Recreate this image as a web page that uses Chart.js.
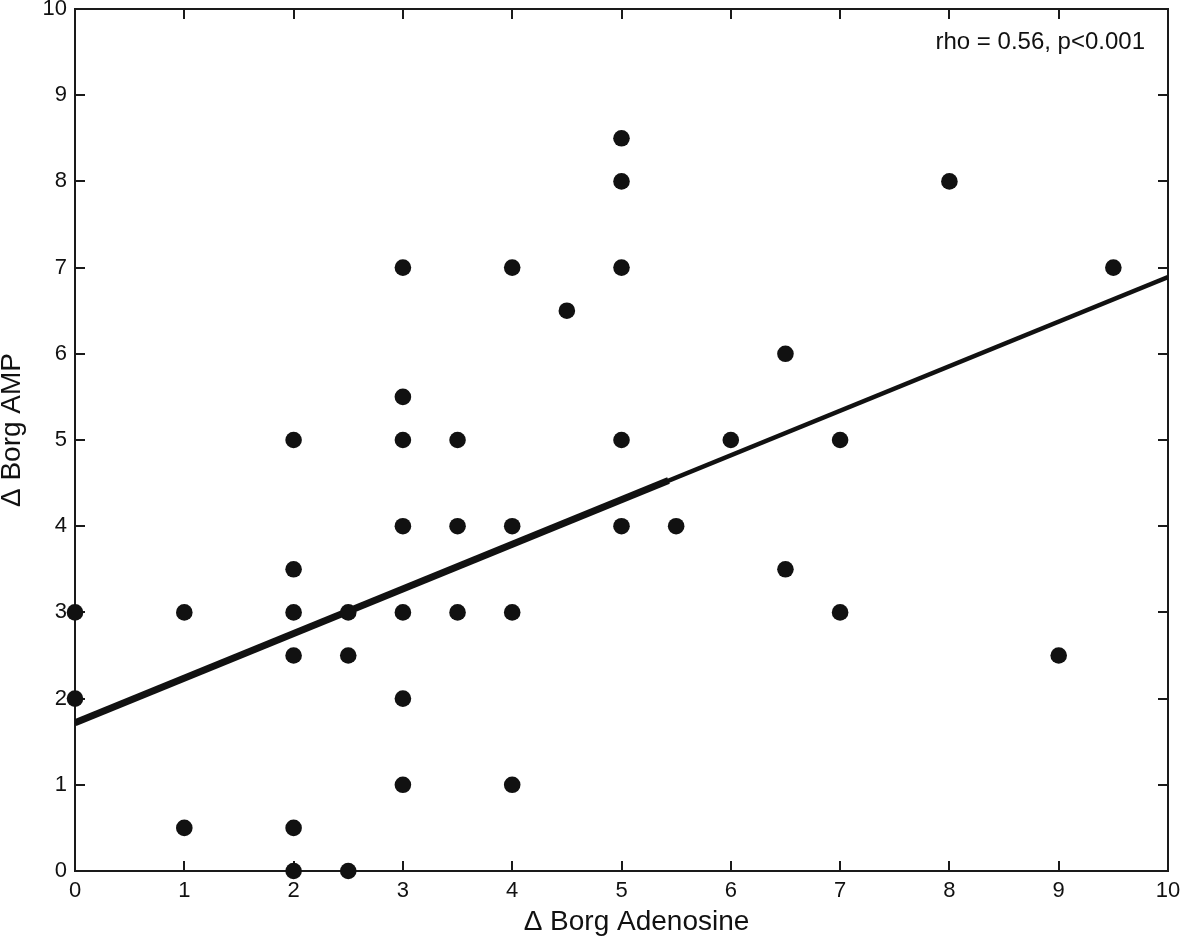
<!DOCTYPE html>
<html><head><meta charset="utf-8">
<script src="https://cdn.jsdelivr.net/npm/chart.js@4/dist/chart.umd.min.js"></script>
<style>html,body{margin:0;padding:0;background:#fff}#wrap{position:relative;width:1181px;height:940px}</style>
</head><body><div id="wrap"><canvas id="c" width="1181" height="940"></canvas></div>
<script>
// Data
const adenosine = [0,0, 1,1, 2,2,2,2,2,2, 2.5,2.5,2.5, 3,3,3,3,3,3,3, 3.5,3.5,3.5, 4,4,4,4, 4.5, 5,5,5,5,5, 5.5, 6, 6.5,6.5, 7,7, 8, 9, 9.5];
const amp       = [3,2, 3,0.5, 5,3.5,3,2.5,0.5,0, 3,2.5,0, 7,5.5,5,4,3,2,1, 5,4,3, 7,4,3,1, 6.5, 8.5,8,7,5,4, 4, 5, 6,3.5, 5,3, 8, 2.5, 7];
const fitX = [0, 10];
const fitY = [1.72, 6.89];
const fitThickX = [0, 5.43];
const fitThickY = [1.72, 4.53];
const xTickValues = [0,1,2,3,4,5,6,7,8,9,10];
const yTickValues = [0,1,2,3,4,5,6,7,8,9,10];
const xTitle = 'Δ Borg Adenosine';
const yTitle = 'Δ Borg AMP';
const statText = 'rho = 0.56, p<0.001';

const FONT = "'Liberation Sans', Arial, Helvetica, sans-serif";
const INK = '#111111';

const pts = adenosine.map((x, i) => ({x, y: amp[i]}));
const fitLine = fitX.map((x, i) => ({x, y: fitY[i]}));
const fitThick = fitThickX.map((x, i) => ({x, y: fitThickY[i]}));

const framePlugin = {
  id: 'frame',
  beforeDatasetsDraw(chart) {
    const {ctx, chartArea: a, scales: {x, y}} = chart;
    ctx.save();
    ctx.strokeStyle = '#1a1a1a';
    ctx.lineWidth = 2;
    ctx.strokeRect(a.left, a.top, a.right - a.left, a.bottom - a.top);
    const tl = 10;
    ctx.beginPath();
    xTickValues.forEach(v => {
      const px = Math.round(x.getPixelForValue(v));
      ctx.moveTo(px, a.bottom); ctx.lineTo(px, a.bottom - tl);
      ctx.moveTo(px, a.top); ctx.lineTo(px, a.top + tl);
    });
    yTickValues.forEach(v => {
      const py = Math.round(y.getPixelForValue(v));
      ctx.moveTo(a.left, py); ctx.lineTo(a.left + tl, py);
      ctx.moveTo(a.right, py); ctx.lineTo(a.right - tl, py);
    });
    ctx.stroke();
    ctx.restore();
  },
  afterDraw(chart) {
    const {ctx, chartArea: a} = chart;
    ctx.save();
    ctx.fillStyle = INK;
    ctx.font = '24px ' + FONT;
    ctx.textAlign = 'right';
    ctx.textBaseline = 'middle';
    ctx.fillText(statText, a.right - 23, 42);
    // axis titles (positioned as in the reference)
    ctx.font = '28px ' + FONT;
    ctx.textAlign = 'center';
    ctx.fillText(xTitle, (a.left + a.right) / 2 + 15, 922);
    ctx.translate(12, (a.top + a.bottom) / 2 - 10);
    ctx.rotate(-Math.PI / 2);
    ctx.fillText(yTitle, 0, 0);
    ctx.restore();
  }
};

new Chart(document.getElementById('c'), {
  type: 'scatter',
  data: {
    datasets: [
      {
        type: 'scatter',
        data: pts,
        backgroundColor: INK,
        borderColor: INK,
        pointRadius: 8.3,
        pointHoverRadius: 8.3,
        borderWidth: 0,
        clip: false,
        order: 1
      },
      {
        type: 'line',
        data: fitThick,
        borderColor: INK,
        borderWidth: 7,
        pointRadius: 0,
        fill: false,
        order: 2
      },
      {
        type: 'line',
        data: fitLine,
        borderColor: INK,
        borderWidth: 4.5,
        pointRadius: 0,
        fill: false,
        order: 3
      }
    ]
  },
  options: {
    responsive: false,
    animation: false,
    devicePixelRatio: 1,
    layout: {padding: {top: 9, right: 13, left: 0, bottom: 0}},
    plugins: {legend: {display: false}, tooltip: {enabled: false}},
    scales: {
      x: {
        type: 'linear', min: 0, max: 10,
        afterBuildTicks: s => { s.ticks = xTickValues.map(v => ({value: v})); },
        ticks: {color: INK, font: {family: FONT, size: 22, lineHeight: 1.2}, padding: 7, maxRotation: 0, autoSkip: false},
        grid: {display: false, drawTicks: false},
        border: {display: false},
        title: {display: false},
        afterFit: s => { s.height = 69; s.paddingLeft = 0; s.paddingRight = 0; }
      },
      y: {
        type: 'linear', min: 0, max: 10,
        afterBuildTicks: s => { s.ticks = yTickValues.map(v => ({value: v})); },
        ticks: {color: INK, font: {family: FONT, size: 22, lineHeight: 1.2}, padding: 8, autoSkip: false},
        grid: {display: false, drawTicks: false},
        border: {display: false},
        title: {display: false},
        afterFit: s => { s.width = 75; s.paddingTop = 0; s.paddingBottom = 0; }
      }
    }
  },
  plugins: [framePlugin]
});
</script>
</body></html>
